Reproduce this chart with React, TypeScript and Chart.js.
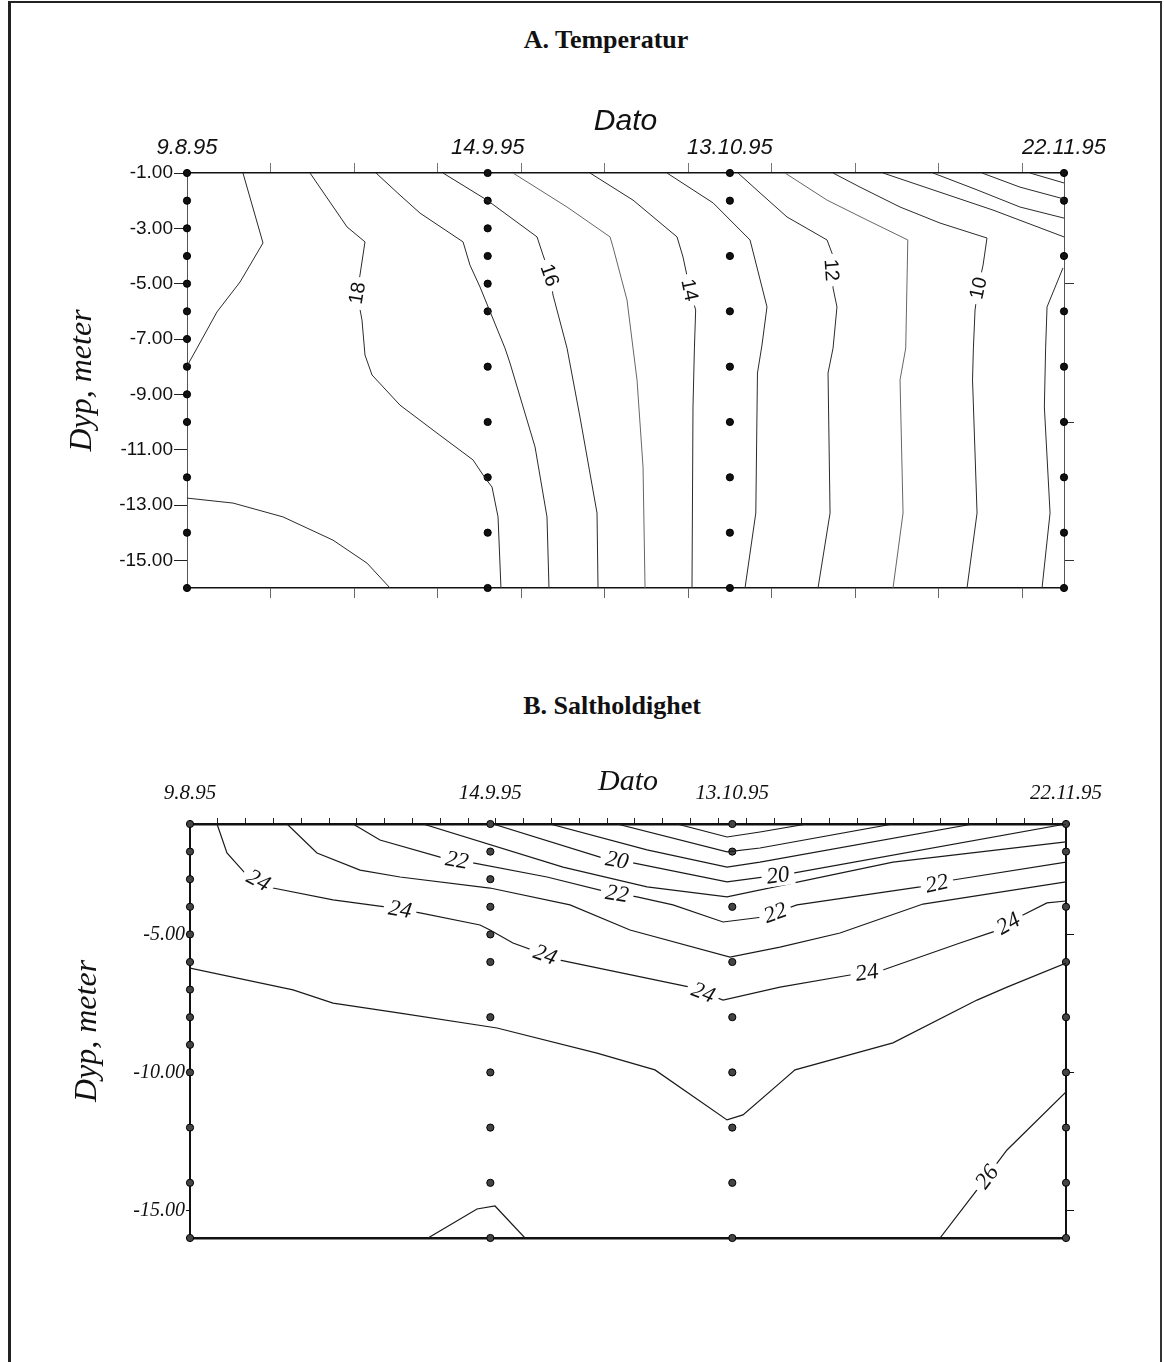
import React, { useEffect, useRef } from "react";
import { Chart, registerables } from "chart.js";
Chart.register(...registerables);

// ---------------- data ----------------
const stationDays = [0, 36, 65, 105];
const stationDates = ["9.8.95", "14.9.95", "13.10.95", "22.11.95"];
const depthsStation1 = [1, 2, 3, 4, 5, 6, 7, 8, 9, 10, 12, 14, 16];
const depthsStation2 = [1, 2, 3, 4, 5, 6, 8, 10, 12, 14, 16];
const depthsStation3 = [1, 2, 4, 6, 8, 10, 12, 14, 16];
const depthsStation4 = [1, 2, 4, 6, 8, 10, 12, 14, 16];
const stationDepths = [depthsStation1, depthsStation2, depthsStation3, depthsStation4];

const tempDepthTicks = [-1, -3, -5, -7, -9, -11, -13, -15];
const saltDepthTicks = [-5, -10, -15];
const rightDepthTicks = [-5, -10, -15];
const tempDayTicks = [10, 20, 30, 40, 50, 60, 70, 80, 90, 100];
const saltDayTicks = [3.33, 6.67, 10, 13.33, 16.67, 20, 23.33, 26.67, 30, 33.33, 36.67, 40, 43.33, 46.67, 50, 53.33, 56.67, 60, 63.33, 66.67, 70, 73.33, 76.67, 80, 83.33, 86.67, 90, 93.33, 96.67, 100, 103.33];

// Temperature contours [day, depth]
const temp19Upper = [[6.7, -1], [9.1, -3.53], [6.35, -4.94], [3.59, -6.02], [1.2, -7.33], [0, -7.98]];
const temp19Lower = [[0, -12.75], [5.51, -12.93], [11.49, -13.43], [17.48, -14.27], [21.55, -15.1], [24.31, -16]];
const temp18 = [[14.73, -1], [19.16, -2.95], [21.31, -3.49], [20.71, -4.69], [20.35, -5.34], [20.95, -6.31], [21.31, -7.58], [22.15, -8.3], [25.5, -9.39], [29.93, -10.4], [34.24, -11.37], [35.68, -12.02], [36.52, -12.35], [37.24, -13.43], [37.59, -16]];
const temp17 = [[22.63, -1], [25.5, -1.8], [27.9, -2.45], [33.05, -3.49], [33.88, -4.33], [35.08, -5.12], [38.07, -7.33], [38.67, -7.87], [41.67, -10.9], [43.1, -13.43], [43.34, -16]];
const temp16 = [[30.65, -1], [35.92, -1.98], [41.91, -3.31], [42.62, -3.96], [43.46, -4.69], [43.82, -5.41], [45.5, -7.33], [47.05, -9.82], [49.09, -13.29], [49.21, -16]];
const temp15 = [[39.03, -1], [45.5, -2.23], [50.65, -3.31], [51.0, -3.67], [52.68, -5.59], [53.4, -7.33], [53.88, -8.48], [54.6, -11.63], [54.84, -16]];
const temp14 = [[48.25, -1], [53.4, -1.98], [58.67, -3.31], [59.39, -4.04], [60.22, -5.23], [60.9, -5.95], [60.75, -7.33], [60.58, -9.46], [60.46, -16]];
const temp13 = [[57.47, -1], [62.98, -2.08], [67.41, -3.42], [69.44, -5.84], [68.84, -7.22], [68.3, -8.23], [68.1, -13.29], [66.81, -16]];
const temp12 = [[65.97, -1], [68.61, -1.72], [71.84, -2.59], [76.63, -3.42], [77.3, -3.96], [77.2, -4.51], [77.35, -5.16], [77.82, -5.84], [77.35, -7.33], [76.75, -8.23], [76.99, -13.29], [75.55, -16]];
const temp11 = [[71.6, -1], [76.63, -1.98], [81.42, -2.7], [86.3, -3.42], [86.05, -7.33], [85.37, -8.48], [85.73, -13.29], [84.53, -16]];
const temp10 = [[77.35, -1], [80.58, -1.51], [85.37, -2.23], [90.16, -2.81], [95.78, -3.35], [95.31, -4.33], [94.71, -5.16], [94.35, -5.95], [94.15, -7.33], [94.05, -8.48], [94.59, -13.29], [93.39, -16]];
const temp9Lower = [[104.88, -4.43], [102.97, -5.84], [102.8, -7.33], [102.65, -9.46], [103.33, -13.29], [102.37, -16]];
const temp9Upper = [[83.33, -1], [89.32, -1.61], [96.5, -2.34], [105, -3.31]];
const temp8 = [[89.32, -1], [94.59, -1.61], [99.73, -2.23], [105, -2.63]];
const temp7 = [[95.19, -1], [99.73, -1.51], [105, -1.94]];
const temp6 = [[100.93, -1], [105, -1.36]];
const tempContours = [temp19Upper, temp19Lower, temp18, temp17, temp16, temp14, temp13, temp12, temp10, temp9Lower, temp9Upper, temp8, temp7, temp6];
const tempFaintContours = [temp15, temp11];
const tempLabels = [
  { text: "18", line: temp18, x: 20.35, y: -5.34 },
  { text: "16", line: temp16, x: 43.46, y: -4.69 },
  { text: "14", line: temp14, x: 60.22, y: -5.23 },
  { text: "12", line: temp12, x: 77.23, y: -4.51 },
  { text: "10", line: temp10, x: 94.71, y: -5.16 },
];

// Salinity contours [day, depth]
const salt17 = [[58.37, -1], [64.37, -1.47], [68.32, -1.29], [73.95, -1]];
const salt18 = [[51.18, -1], [64.37, -2.01], [68.32, -1.87], [84.26, -1]];
const salt19 = [[43.15, -1], [54.78, -1.94], [64.37, -2.56], [68.32, -2.38], [93.85, -1]];
const salt20 = [[36.32, -1], [49.14, -2.2], [53.1, -2.41], [64.37, -3.1], [72.28, -2.78], [105, -1]];
const salt21 = [[27.93, -1], [44.71, -2.56], [54.78, -3.28], [64.37, -3.64], [84.26, -2.38], [105, -1.65]];
const salt22 = [[19.54, -1], [22.77, -1.58], [29.97, -2.2], [33.92, -2.41], [42.79, -2.92], [49.98, -3.46], [53.58, -3.64], [57.89, -3.93], [63.89, -4.55], [68.68, -4.37], [72.76, -3.93], [87.5, -3.28], [91.45, -3.03], [105, -2.38]];
const salt23 = [[11.63, -1], [15.22, -2.05], [20.38, -2.67], [25.17, -2.92], [35.96, -3.32], [45.55, -3.93], [52.74, -4.84], [64.72, -5.82], [70.72, -5.46], [77.91, -4.95], [87.86, -3.9], [105, -3.1]];
const salt24 = [[3.24, -1], [4.43, -2.05], [6.59, -2.78], [9.95, -3.32], [17.14, -3.75], [23.61, -4.01], [27.57, -4.22], [34.76, -4.66], [35.96, -4.84], [38.71, -5.31], [44.35, -5.93], [59.93, -6.91], [63.89, -7.38], [70.72, -6.91], [79.11, -6.47], [83.06, -6.29], [92.29, -5.31], [96.25, -4.91], [99.84, -4.3], [102.72, -3.86], [105, -3.79]];
const salt25 = [[0, -6.22], [12.35, -7.01], [17.14, -7.49], [25.17, -7.85], [36.8, -8.39], [48.78, -9.3], [55.73, -9.91], [64.37, -11.72], [66.28, -11.54], [70.72, -10.38], [72.52, -9.91], [84.26, -8.93], [94.33, -7.38], [97.93, -6.91], [105, -6.04]];
const salt26Left = [[28.53, -16], [34.4, -14.95], [36.56, -14.84], [40.15, -16]];
const salt26Right = [[89.9, -16], [94.33, -14.26], [97.93, -12.81], [105, -10.71]];
const saltContours = [salt17, salt18, salt19, salt20, salt21, salt22, salt23, salt24, salt25, salt26Left, salt26Right];
const saltLabels = [
  { text: "24", line: salt24, x: 8.03, y: -3.14 },
  { text: "24", line: salt24, x: 25.17, y: -4.12 },
  { text: "24", line: salt24, x: 42.55, y: -5.75 },
  { text: "24", line: salt24, x: 61.49, y: -7.12 },
  { text: "24", line: salt24, x: 81.15, y: -6.4 },
  { text: "24", line: salt24, x: 98.05, y: -4.59 },
  { text: "22", line: salt22, x: 32.0, y: -2.3 },
  { text: "22", line: salt22, x: 51.18, y: -3.55 },
  { text: "22", line: salt22, x: 70.12, y: -4.2 },
  { text: "22", line: salt22, x: 89.54, y: -3.18 },
  { text: "20", line: salt20, x: 51.18, y: -2.3 },
  { text: "20", line: salt20, x: 70.48, y: -2.88 },
  { text: "26", line: salt26Right, x: 95.53, y: -13.79 },
];

// ---------------- helpers ----------------
type Lab = { text: string; line: number[][]; x: number; y: number };

function makeLabelPlugin(id: string, labels: Lab[], font: string) {
  return {
    id,
    afterDatasetsDraw(chart: any) {
      const ctx = chart.ctx;
      const xs = chart.scales.x;
      const ys = chart.scales.y;
      for (const lab of labels) {
        const px = xs.getPixelForValue(lab.x);
        const py = ys.getPixelForValue(lab.y);
        const pts = lab.line.map((p) => [xs.getPixelForValue(p[0]), ys.getPixelForValue(p[1])]);
        let best = Infinity, ang = 0, sx = px, sy = py;
        for (let i = 0; i < pts.length - 1; i++) {
          const [x1, y1] = pts[i];
          const [x2, y2] = pts[i + 1];
          const dx = x2 - x1, dy = y2 - y1;
          const L = dx * dx + dy * dy || 1;
          let t = ((px - x1) * dx + (py - y1) * dy) / L;
          t = Math.max(0, Math.min(1, t));
          const qx = x1 + t * dx, qy = y1 + t * dy;
          const d = (qx - px) ** 2 + (qy - py) ** 2;
          if (d < best) { best = d; ang = Math.atan2(dy, dx); sx = qx; sy = qy; }
        }
        if (ang > Math.PI / 2) ang -= Math.PI;
        else if (ang < -Math.PI / 2) ang += Math.PI;
        ctx.save();
        ctx.font = font;
        ctx.textAlign = "center";
        ctx.textBaseline = "middle";
        ctx.translate(sx, sy);
        ctx.rotate(ang);
        const w = ctx.measureText(lab.text).width;
        ctx.fillStyle = "#fff";
        ctx.fillRect(-w / 2 - 5, -11, w + 10, 22);
        ctx.fillStyle = "#111";
        ctx.fillText(lab.text, 0, 1);
        ctx.restore();
      }
    },
  };
}

function makeTitlePlugin(id: string, xTitle: string, xFont: string, xOff: number, yTitle: string, yFont: string, yOff: number) {
  return {
    id,
    afterDraw(chart: any) {
      const ctx = chart.ctx;
      const a = chart.chartArea;
      ctx.save();
      ctx.fillStyle = "#111";
      ctx.textAlign = "center";
      ctx.textBaseline = "middle";
      ctx.font = xFont;
      ctx.fillText(xTitle, (a.left + a.right) / 2, a.top - xOff);
      ctx.translate(a.left - yOff, (a.top + a.bottom) / 2);
      ctx.rotate(-Math.PI / 2);
      ctx.font = yFont;
      ctx.fillText(yTitle, 0, 0);
      ctx.restore();
    },
  };
}

function contourSets(lines: number[][][], color: string, width: number) {
  return lines.map((pts) => ({
    type: "scatter" as const,
    data: pts.map(([x, y]) => ({ x, y })),
    showLine: true,
    borderColor: color,
    borderWidth: width,
    pointRadius: 0,
    tension: 0,
    fill: false,
  }));
}

function dotSet(fill: string) {
  const pts: { x: number; y: number }[] = [];
  stationDays.forEach((d, i) => stationDepths[i].forEach((z) => pts.push({ x: d, y: -z })));
  return {
    type: "scatter" as const,
    data: pts,
    pointRadius: 3.6,
    pointBackgroundColor: fill,
    pointBorderColor: "#000",
    pointBorderWidth: 1,
    showLine: false,
    clip: false as any,
  };
}

const dateLabel = (v: number) => {
  const i = stationDays.indexOf(Number(v));
  return i >= 0 ? stationDates[i] : "";
};

function configA(): any {
  const topTicks = Array.from(new Set([...stationDays, ...tempDayTicks])).sort((a, b) => a - b);
  return {
    type: "scatter",
    data: { datasets: [...contourSets(tempContours, "#2a2a2a", 1), ...contourSets(tempFaintContours, "#666", 1), dotSet("#111")] },
    options: {
      animation: false,
      responsive: false,
      events: [],
      layout: { padding: 0, autoPadding: false },
      plugins: { legend: { display: false }, tooltip: { enabled: false }, title: { display: false } },
      scales: {
        x: {
          type: "linear", position: "top", min: 0, max: 105,
          afterBuildTicks: (s: any) => { s.ticks = topTicks.map((v) => ({ value: v })); },
          afterFit: (s: any) => { s.height = 83; },
          ticks: { autoSkip: false, maxRotation: 0, padding: 2, color: "#111", font: { family: "'Liberation Sans', Arial, sans-serif", size: 22, style: "italic" }, callback: (v: any) => dateLabel(v) },
          grid: { drawOnChartArea: false, tickLength: 10, color: (c: any) => (c.tick && stationDays.includes(c.tick.value) ? "rgba(0,0,0,0)" : "#777") },
          border: { display: true, color: "#111", width: 1.5 },
        },
        xb: {
          type: "linear", position: "bottom", min: 0, max: 105,
          afterBuildTicks: (s: any) => { s.ticks = tempDayTicks.map((v) => ({ value: v })); },
          afterFit: (s: any) => { s.height = 42; },
          ticks: { autoSkip: false, callback: () => "" },
          grid: { drawOnChartArea: false, tickLength: 10, color: "#666" },
          border: { display: true, color: "#111", width: 1.5 },
        },
        y: {
          type: "linear", position: "left", min: -16, max: -1,
          afterBuildTicks: (s: any) => { s.ticks = tempDepthTicks.map((v) => ({ value: v })); },
          afterFit: (s: any) => { s.width = 187; },
          ticks: { autoSkip: false, padding: 1, color: "#111", font: { family: "'Liberation Sans', Arial, sans-serif", size: 19 }, callback: (v: any) => Number(v).toFixed(2) },
          grid: { drawOnChartArea: false, tickLength: 13, color: "#222" },
          border: { display: true, color: "#555", width: 1, dash: [5, 3] },
        },
        yr: {
          type: "linear", position: "right", min: -16, max: -1,
          afterBuildTicks: (s: any) => { s.ticks = rightDepthTicks.map((v) => ({ value: v })); },
          afterFit: (s: any) => { s.width = 100; },
          ticks: { callback: () => "" },
          grid: { drawOnChartArea: false, tickLength: 10, color: "#333" },
          border: { display: true, color: "#555", width: 1, dash: [5, 3] },
        },
      },
    },
    plugins: [
      makeLabelPlugin("tempLabels", tempLabels, "20px 'Liberation Sans', Arial, sans-serif"),
      makeTitlePlugin("tempTitles", "Dato", "italic 30px 'Liberation Sans', Arial, sans-serif", 51, "Dyp, meter", "italic 32px 'Liberation Serif', 'Times New Roman', serif", 104),
    ],
  };
}

function configB(): any {
  const topTicks = Array.from(new Set([...stationDays, ...saltDayTicks])).sort((a, b) => a - b);
  const serif = "'Liberation Serif', 'Times New Roman', serif";
  return {
    type: "scatter",
    data: { datasets: [...contourSets(saltContours, "#1a1a1a", 1.2), dotSet("#444")] },
    options: {
      animation: false,
      responsive: false,
      events: [],
      layout: { padding: 0, autoPadding: false },
      plugins: { legend: { display: false }, tooltip: { enabled: false }, title: { display: false } },
      scales: {
        x: {
          type: "linear", position: "top", min: 0, max: 105,
          afterBuildTicks: (s: any) => { s.ticks = topTicks.map((v) => ({ value: v })); },
          afterFit: (s: any) => { s.height = 84; },
          ticks: { autoSkip: false, maxRotation: 0, padding: 12, color: "#111", font: { family: serif, size: 21, style: "italic" }, callback: (v: any) => dateLabel(v) },
          grid: { drawOnChartArea: false, tickLength: 6, color: (c: any) => (c.tick && stationDays.includes(c.tick.value) ? "rgba(0,0,0,0)" : "#222") },
          border: { display: true, color: "#111", width: 2.5 },
        },
        xb: {
          type: "linear", position: "bottom", min: 0, max: 105,
          afterFit: (s: any) => { s.height = 42; },
          ticks: { display: false },
          grid: { display: false },
          border: { display: true, color: "#111", width: 2.5 },
        },
        y: {
          type: "linear", position: "left", min: -16, max: -1,
          afterBuildTicks: (s: any) => { s.ticks = saltDepthTicks.map((v) => ({ value: v })); },
          afterFit: (s: any) => { s.width = 190; },
          ticks: { autoSkip: false, padding: 1, color: "#111", font: { family: serif, size: 20, style: "italic" }, callback: (v: any) => Number(v).toFixed(2) },
          grid: { drawOnChartArea: false, tickLength: 4, color: "#111" },
          border: { display: true, color: "#111", width: 2 },
        },
        yr: {
          type: "linear", position: "right", min: -16, max: -1,
          afterBuildTicks: (s: any) => { s.ticks = rightDepthTicks.map((v) => ({ value: v })); },
          afterFit: (s: any) => { s.width = 98; },
          ticks: { callback: () => "" },
          grid: { drawOnChartArea: false, tickLength: 8, color: "#111" },
          border: { display: true, color: "#111", width: 2 },
        },
      },
    },
    plugins: [
      makeLabelPlugin("saltLabels", saltLabels, `italic 23px ${serif}`),
      makeTitlePlugin("saltTitles", "Dato", `italic 30px ${serif}`, 42, "Dyp, meter", `italic 32px ${serif}`, 102),
    ],
  };
}

export default function App() {
  const refA = useRef<HTMLCanvasElement>(null);
  const refB = useRef<HTMLCanvasElement>(null);
  useEffect(() => {
    document.body.style.overflow = "hidden";
    const a = new Chart(refA.current as HTMLCanvasElement, configA());
    const b = new Chart(refB.current as HTMLCanvasElement, configB());
    return () => { a.destroy(); b.destroy(); };
  }, []);
  const titleStyle: React.CSSProperties = {
    position: "absolute", width: 400, textAlign: "center", fontFamily: "'Liberation Serif', 'Times New Roman', serif",
    fontWeight: "bold", fontSize: 26, lineHeight: "30px", color: "#111",
  };
  return (
    <div>
      <div style={{ position: "absolute", left: 8, top: 1, width: 1154, height: 1370, borderTop: "2px solid #222", borderLeft: "3px solid #222", borderRight: "2px solid #333", boxSizing: "border-box" }} />
      <div style={{ ...titleStyle, left: 406, top: 25 }}>A. Temperatur</div>
      <div style={{ ...titleStyle, left: 412, top: 691 }}>B. Saltholdighet</div>
      <canvas ref={refA} width={1164} height={540} style={{ position: "absolute", left: 0, top: 90 }} />
      <canvas ref={refB} width={1164} height={540} style={{ position: "absolute", left: 0, top: 740 }} />
    </div>
  );
}
